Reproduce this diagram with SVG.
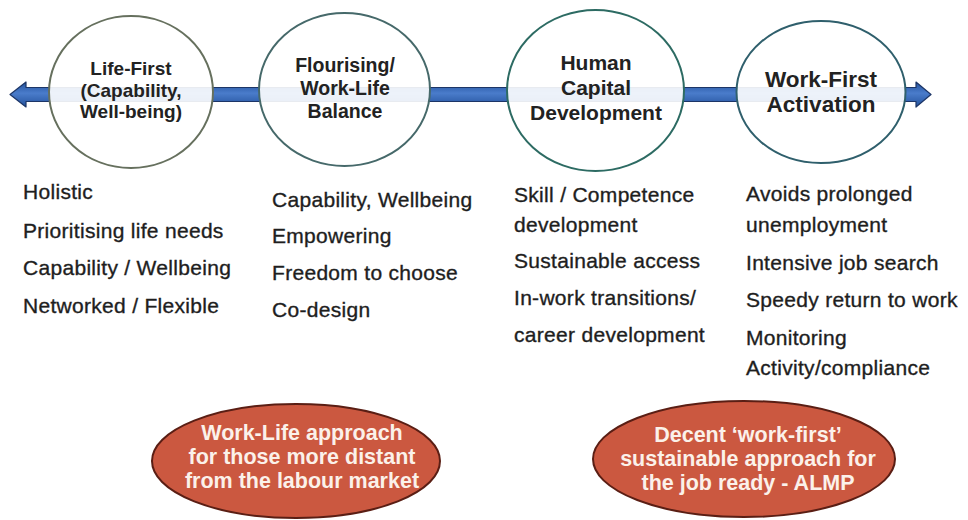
<svg xmlns="http://www.w3.org/2000/svg" width="968" height="520" viewBox="0 0 968 520">
  <defs>
    <linearGradient id="shaftFill" x1="0" y1="0" x2="0" y2="1">
      <stop offset="0" stop-color="#24529c"/>
      <stop offset="0.45" stop-color="#4a7ccb"/>
      <stop offset="1" stop-color="#24529c"/>
    </linearGradient>
    <style>
      .stage { fill: #ffffff; fill-opacity: 0.9; stroke: #37665f; stroke-width: 2; }
      .stage-label { font-family: "Liberation Sans", Arial, sans-serif; font-weight: bold; fill: #222222; text-anchor: middle; }
      .item { font-family: "Liberation Sans", Arial, sans-serif; font-size: 21px; fill: #1e1e1e; stroke: #1e1e1e; stroke-width: 0.35; letter-spacing: 0.3px; }
      .approach { fill: #cb5840; stroke: #5a1e14; stroke-width: 2; }
      .approach-label { font-family: "Liberation Sans", Arial, sans-serif; font-weight: bold; font-size: 21.5px; fill: #fbf1ea; text-anchor: middle; }
    </style>
  </defs>

  <rect width="968" height="520" fill="#ffffff"/>

  <!-- double-headed axis running through the four stages -->
  <g id="connectors">
    <path d="M10,94.5 L26,82 L26,87.5 L916,87.5 L916,82 L931,94.5 L916,107 L916,101.5 L26,101.5 L26,107 Z"
          fill="url(#shaftFill)" stroke="#1c3566" stroke-width="1.2" stroke-linejoin="round"/>
  </g>

  <g id="life-first">
    <ellipse class="stage" cx="131" cy="92" rx="82" ry="76" style="stroke:#66705e"/>
    <text class="stage-label" font-size="19" x="131" y="75">Life-First</text>
    <text class="stage-label" font-size="19" x="131" y="97">(Capability,</text>
    <text class="stage-label" font-size="19" x="131" y="118">Well-being)</text>
  </g>

  <g id="flourising">
    <ellipse class="stage" cx="344.5" cy="89.5" rx="85.5" ry="76.5" style="stroke:#46696a"/>
    <text class="stage-label" font-size="19.5" x="345" y="72">Flourising/</text>
    <text class="stage-label" font-size="19.5" x="345" y="95">Work-Life</text>
    <text class="stage-label" font-size="19.5" x="345" y="118">Balance</text>
  </g>

  <g id="human-capital">
    <ellipse class="stage" cx="595.5" cy="90.5" rx="88.5" ry="80.5" style="stroke:#2d6b63"/>
    <text class="stage-label" font-size="21" x="596" y="70">Human</text>
    <text class="stage-label" font-size="21" x="596" y="95">Capital</text>
    <text class="stage-label" font-size="21" x="596" y="120">Development</text>
  </g>

  <g id="work-first">
    <ellipse class="stage" cx="821" cy="92" rx="84.5" ry="71" style="stroke:#2f5f6c"/>
    <text class="stage-label" font-size="22.5" x="821" y="87">Work-First</text>
    <text class="stage-label" font-size="22.5" x="821" y="112">Activation</text>
  </g>

  <g id="life-first-items">
    <text class="item" x="23" y="199">Holistic</text>
    <text class="item" x="23" y="238">Prioritising life needs</text>
    <text class="item" x="23" y="275">Capability / Wellbeing</text>
    <text class="item" x="23" y="313">Networked / Flexible</text>
  </g>

  <g id="flourising-items">
    <text class="item" x="272" y="207">Capability, Wellbeing</text>
    <text class="item" x="272" y="243">Empowering</text>
    <text class="item" x="272" y="280">Freedom to choose</text>
    <text class="item" x="272" y="317">Co-design</text>
  </g>

  <g id="human-capital-items">
    <text class="item" x="514" y="202">Skill / Competence</text>
    <text class="item" x="514" y="232">development</text>
    <text class="item" x="514" y="268">Sustainable access</text>
    <text class="item" x="514" y="305">In-work transitions/</text>
    <text class="item" x="514" y="342">career development</text>
  </g>

  <g id="work-first-items">
    <text class="item" x="746" y="201">Avoids prolonged</text>
    <text class="item" x="746" y="232">unemployment</text>
    <text class="item" x="746" y="270">Intensive job search</text>
    <text class="item" x="746" y="307">Speedy return to work</text>
    <text class="item" x="746" y="345">Monitoring</text>
    <text class="item" x="746" y="375">Activity/compliance</text>
  </g>

  <g id="work-life-approach">
    <ellipse class="approach" cx="296" cy="461" rx="144" ry="57"/>
    <text class="approach-label" x="302" y="440">Work-Life approach</text>
    <text class="approach-label" x="302" y="464">for those more distant</text>
    <text class="approach-label" x="302" y="488">from the labour market</text>
  </g>

  <g id="work-first-approach">
    <ellipse class="approach" cx="744" cy="459" rx="151" ry="58"/>
    <text class="approach-label" x="748" y="442">Decent ‘work-first’</text>
    <text class="approach-label" x="748" y="466">sustainable approach for</text>
    <text class="approach-label" x="748" y="490">the job ready - ALMP</text>
  </g>
</svg>
